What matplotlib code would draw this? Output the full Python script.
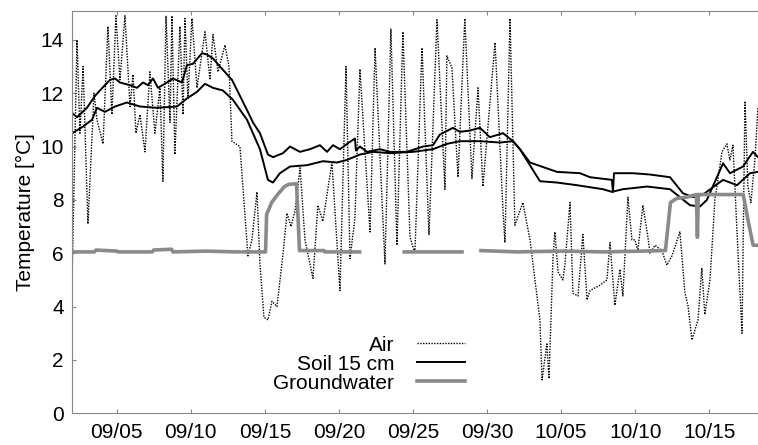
import numpy as np
import matplotlib
matplotlib.use("Agg")
import matplotlib.pyplot as plt
from datetime import datetime

# time axis: days counted from 09/02 00:00
START = datetime(2009, 9, 2)
tick_labels = ["09/05", "09/10", "09/15", "09/20", "09/25",
               "09/30", "10/05", "10/10", "10/15"]

# air temperature (dotted)
air_day = [0.0, 0.32, 0.52, 0.73, 1.06, 1.47, 1.67, 2.08, 2.41, 2.68,
           2.95, 3.22, 3.56, 3.90, 4.10, 4.30, 4.57, 4.91, 5.24, 5.58,
           5.92, 6.12, 6.33, 6.60, 6.73, 6.93, 7.27, 7.48, 7.61, 7.81,
           8.08, 8.42, 8.96, 9.30, 9.50, 9.84, 10.31, 10.58, 10.78, 11.32,
           11.86, 12.13, 12.47, 12.67, 12.94, 13.21, 13.48, 13.82, 14.23, 14.50,
           14.77, 15.04, 15.38, 15.71, 16.25, 16.58, 16.92, 17.53, 18.07, 18.48,
           18.75, 19.08, 19.42, 20.10, 20.44, 21.11, 21.51, 21.92, 22.32, 22.80,
           23.13, 23.61, 24.08, 24.62, 25.16, 25.29, 25.63, 26.04, 26.50, 26.98,
           27.39, 27.72, 28.54, 29.08, 29.21, 29.55, 29.88, 30.42, 30.90, 31.57,
           31.71, 32.04, 32.18, 32.45, 32.58, 32.79, 33.12, 33.26, 33.60, 33.80,
           34.14, 34.47, 34.75, 34.95, 35.62, 36.09, 36.30, 36.63, 36.97, 37.17,
           37.51, 37.78, 37.98, 38.18, 38.52, 38.86, 39.00, 39.34, 39.80, 40.14,
           40.48, 41.02, 41.36, 41.56, 41.83, 42.24, 42.50, 42.70, 43.05, 43.38,
           43.86, 44.19, 44.39, 44.60, 44.94, 45.21, 45.41, 45.61, 45.81, 46.08,
           46.29]
air_temp = [5.3, 14.0, 10.5, 13.0, 7.1, 12.0, 11.0, 10.1, 14.5, 11.2,
            14.9, 12.5, 14.9, 11.5, 12.7, 10.5, 11.2, 9.8, 12.8, 10.5,
            12.2, 8.7, 14.9, 10.9, 14.9, 9.7, 14.5, 11.2, 14.8, 11.8,
            14.8, 12.2, 14.3, 12.5, 14.2, 12.8, 13.8, 13.0, 10.2, 10.0,
            5.9, 6.5, 8.3, 5.6, 3.6, 3.5, 4.2, 4.0, 6.0, 7.5,
            7.0, 7.6, 9.2, 6.5, 5.06, 7.8, 7.2, 9.4, 4.6, 13.0,
            5.8, 7.3, 12.9, 6.8, 13.7, 5.6, 14.4, 6.3, 14.3, 6.6,
            6.0, 13.7, 6.7, 14.75, 8.4, 13.4, 12.95, 8.85, 14.8, 8.8,
            12.2, 8.5, 13.9, 7.55, 6.4, 14.8, 7.05, 7.9, 6.5, 3.5,
            1.25, 2.6, 1.3, 5.8, 6.8, 5.3, 5.0, 5.6, 7.9, 4.5,
            4.4, 6.7, 4.25, 4.6, 4.8, 5.0, 6.4, 4.05, 5.4, 4.4,
            8.1, 6.5, 6.5, 6.1, 7.8, 6.6, 6.0, 6.3, 6.1, 5.55,
            5.9, 6.8, 4.5, 4.05, 2.75, 3.5, 5.45, 3.7, 5.0, 8.0,
            9.8, 10.1, 9.5, 10.05, 6.0, 3.0, 11.7, 8.5, 7.9, 9.5,
            11.5]

# soil 15 cm, first probe (upper at start)
soil_a_day = [0.0, 0.32, 0.99, 1.54, 1.87, 2.55, 2.89, 3.22, 3.90, 4.37,
              4.78, 5.11, 5.45, 5.79, 6.39, 6.80, 7.41, 7.74, 8.15, 8.76,
              9.09, 9.50, 9.97, 10.78, 11.32, 11.90, 12.20, 12.67, 13.21, 13.55,
              14.22, 14.70, 15.37, 16.05, 16.72, 17.20, 17.60, 18.07, 18.55, 19.08,
              19.15, 19.42, 19.90, 20.77, 21.45, 22.59, 23.68, 24.35, 24.82, 25.70,
              26.17, 26.85, 27.52, 28.19, 29.08, 29.75, 30.22, 30.90, 32.72, 34.27,
              34.95, 36.43, 36.50, 36.57, 37.85, 39.00, 40.35, 41.22, 41.90, 42.58,
              43.93, 44.87, 45.75, 46.29]
soil_a_temp = [11.25, 11.1, 11.45, 11.9, 12.1, 12.5, 12.55, 12.4, 12.3, 12.2,
               12.4, 12.3, 12.55, 12.2, 12.4, 12.55, 12.4, 13.05, 13.1, 13.5,
               13.45, 13.3, 13.0, 12.5, 11.9, 11.25, 10.9, 10.5, 9.7, 9.6,
               9.75, 10.0, 9.8, 9.9, 10.05, 9.8, 10.05, 9.9, 10.1, 10.3,
               9.85, 10.0, 9.8, 9.9, 9.8, 9.8, 10.0, 10.05, 10.45, 10.7,
               10.55, 10.6, 10.7, 10.35, 10.5, 10.2, 9.9, 9.4, 9.05, 9.0,
               8.85, 8.75, 8.3, 9.0, 9.0, 8.95, 8.85, 8.25, 8.1, 8.2,
               8.75, 8.55, 9.0, 9.05]

# soil 15 cm, second probe (lower at start)
soil_b_day = [0.0, 0.73, 1.33, 1.67, 2.21, 2.89, 3.69, 4.57, 5.72, 7.07,
              7.74, 8.42, 8.96, 9.50, 10.17, 10.85, 11.80, 12.67, 13.21, 13.55,
              14.02, 14.70, 15.85, 16.92, 17.87, 18.55, 19.42, 20.30, 21.45, 23.00,
              24.35, 25.29, 26.17, 27.52, 28.87, 29.75, 30.22, 31.57, 32.72, 34.07,
              35.83, 36.43, 37.17, 38.80, 40.35, 41.70, 42.37, 42.84, 43.93, 44.40,
              45.28, 45.95, 46.29]
soil_b_temp = [10.5, 10.75, 11.0, 11.45, 11.3, 11.5, 11.65, 11.5, 11.45, 11.5,
               11.8, 12.05, 12.35, 12.2, 12.1, 11.75, 11.0, 9.9, 8.75, 8.65,
               9.0, 9.25, 9.3, 9.45, 9.4, 9.5, 9.7, 9.8, 9.75, 9.8,
               9.9, 10.1, 10.2, 10.2, 10.15, 10.2, 9.9, 8.7, 8.65, 8.55,
               8.4, 8.3, 8.4, 8.5, 8.4, 7.8, 7.75, 8.0, 9.37, 9.0,
               9.25, 9.8, 9.6]

# groundwater (gaps where no data)
gw_day = [0.0, 1.5, 1.6, 3.0, 3.1, 5.4, 5.5, 6.7, 6.8, 9.0,
          11.0, 13.05, 13.12, 13.46, 13.86, 14.33, 14.60, 15.00, 15.14, 15.34,
          17.00, 17.05, 19.40, np.nan, 22.41, 26.31, np.nan, 27.59, 30.0, 33.0,
          36.0, 40.04, 40.38, 40.78, 41.45, 42.13, 42.20, 42.26, 42.33, 45.29,
          45.63, 45.96, 46.30]
gw_temp = [6.05, 6.05, 6.12, 6.08, 6.05, 6.05, 6.12, 6.15, 6.05, 6.08,
           6.05, 6.05, 7.45, 7.9, 8.2, 8.5, 8.58, 8.6, 8.6, 6.1,
           6.1, 6.05, 6.05, np.nan, 6.05, 6.05, np.nan, 6.1, 6.05, 6.08,
           6.05, 6.1, 7.9, 8.05, 8.1, 8.2, 6.6, 8.2, 8.2, 8.2,
           7.2, 6.3, 6.3]

fig = plt.figure(figsize=(7.58, 4.45), dpi=100)
plt.rcParams["font.family"] = ["Liberation Sans", "DejaVu Sans"]
ax = fig.add_axes([0.0953, 0.0712, 0.9047, 0.9041])

ax.plot(air_day, air_temp, color="black", linestyle=(0, (1, 1)), linewidth=1.0,
        label="Air")
ax.plot(soil_a_day, soil_a_temp, color="black", linewidth=1.4, label="Soil 15 cm")
ax.plot(soil_b_day, soil_b_temp, color="black", linewidth=1.4)
ax.plot(gw_day, gw_temp, color="#8a8a8a", linewidth=2.6, label="Groundwater")

tick_days = [(datetime(2009, int(t[:2]), int(t[3:])) - START).days for t in tick_labels]
ax.set_xticks(tick_days)
ax.set_xticklabels(tick_labels)
ax.set_yticks(range(0, 15, 2))
ax.set_xlim(0, 46.29)
ax.set_ylim(0, 15.08)
ax.tick_params(direction="in", length=3, width=0.8, color="#888888",
               labelsize=15, top=True, pad=6)
ax.tick_params(axis="x", pad=7)
for side in ["top", "bottom", "left"]:
    ax.spines[side].set_color("#888888")
ax.spines["right"].set_visible(False)
ax.set_ylabel("Temperature [°C]", fontsize=15, labelpad=4)

ax.legend(loc="upper right", bbox_to_anchor=(0.573, 0.193), frameon=False,
          markerfirst=False, fontsize=15, handlelength=2.3, handletextpad=1.1,
          labelspacing=0.0, borderpad=0, borderaxespad=0)

fig.savefig("out.png", dpi=100)
